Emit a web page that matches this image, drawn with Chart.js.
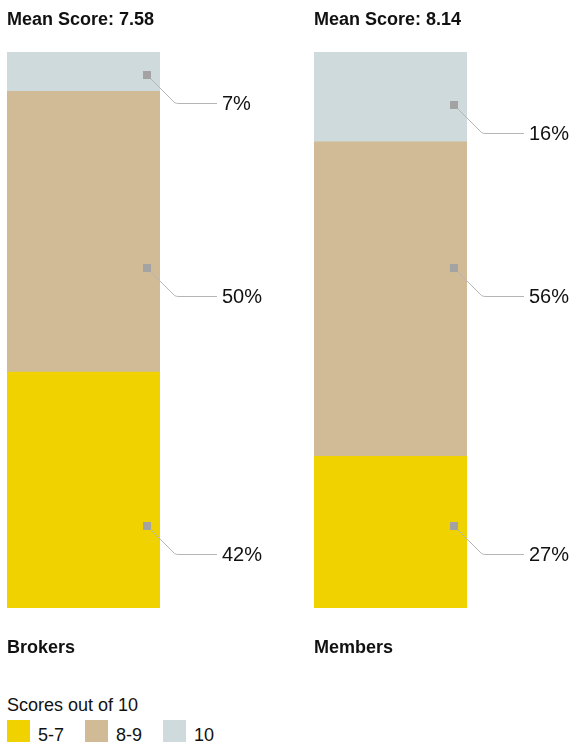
<!DOCTYPE html>
<html>
<head>
<meta charset="utf-8">
<title>Scores out of 10</title>
<script src="https://cdn.jsdelivr.net/npm/chart.js@4.4.1/dist/chart.umd.min.js"></script>
<style>
  html, body { margin: 0; padding: 0; background: #fff; }
  body {
    width: 571px; height: 742px; position: relative; overflow: hidden;
    font-family: "Liberation Sans", Arial, sans-serif; color: #111;
  }
  .panel { position: absolute; top: 0; }
  #brokers { left: 0; }
  #members { left: 307px; }
  #key { position: absolute; left: 7px; top: 694px; }
  #key .head { font-size: 18px; line-height: 22px; }
  #key .items { display: flex; margin-top: 4px; }
  #key .item { display: flex; align-items: flex-start; width: 78px; font-size: 18px; }
  #key .sw { width: 23px; height: 23px; margin-right: 8px; flex: none; }
  #key .txt { line-height: 23px; padding-top: 4px; }
</style>
</head>
<body>
<canvas id="brokers" class="panel" width="307" height="664"></canvas>
<canvas id="members" class="panel" width="264" height="664"></canvas>
<div id="key"></div>

<script>
// Share of respondents per score band, bottom to top: 5-7, 8-9, 10
const categories = ['Brokers', 'Members'];
const meanScores = [7.58, 8.14];
const bandLabels = ['5-7', '8-9', '10'];
const bandColors = ['#f0d200', '#d0bb96', '#cfdadc'];
const brokersShares = [42, 50, 7];
const membersShares = [27, 56, 16];
const keyTitle = 'Scores out of 10';

const FONT = '"Liberation Sans", Arial, sans-serif';

// Grey marker inside each segment with a leader line out to its percentage
const leaderLabels = {
  id: 'leaderLabels',
  afterDatasetsDraw(chart, args, opts) {
    const ctx = chart.ctx;
    const yScale = chart.scales.y;
    chart.data.datasets.forEach((ds, i) => {
      const bar = chart.getDatasetMeta(i).data[0];
      if (!bar) return;
      const right = bar.x + bar.width / 2;
      const mx = Math.round(right - 13);
      const my = Math.round(yScale.getPixelForValue(opts.anchors[i]));
      ctx.save();
      ctx.strokeStyle = '#b5b5b5';
      ctx.lineWidth = 1;
      ctx.beginPath();
      ctx.moveTo(mx + 0.5, my + 0.5);
      ctx.lineTo(mx + 27.5, my + 27.5);
      ctx.quadraticCurveTo(mx + 29, my + 28.5, mx + 32, my + 28.5);
      ctx.lineTo(mx + 70, my + 28.5);
      ctx.stroke();
      ctx.fillStyle = '#a3a3a3';
      ctx.fillRect(mx - 4, my - 4, 8, 8);
      ctx.fillStyle = '#111';
      ctx.font = '20px ' + FONT;
      ctx.textAlign = 'left';
      ctx.textBaseline = 'middle';
      ctx.fillText(ds.data[0] + '%', mx + 75, my + 29);
      ctx.restore();
    });
  }
};

function makePanel(canvasId, idx, shares, anchors, padRight) {
  const total = shares.reduce((a, b) => a + b, 0);
  return new Chart(document.getElementById(canvasId), {
    type: 'bar',
    data: {
      labels: [categories[idx]],
      datasets: bandLabels.map((lab, i) => ({
        label: lab,
        data: [shares[i]],
        backgroundColor: bandColors[i],
        borderWidth: 0,
        barPercentage: 1,
        categoryPercentage: 1
      }))
    },
    options: {
      responsive: false,
      animation: false,
      devicePixelRatio: 1,
      layout: { padding: { left: 7, right: padRight, top: 0, bottom: 0 } },
      scales: {
        x: { stacked: true, display: false },
        y: { stacked: true, display: false, min: 0, max: total }
      },
      plugins: {
        legend: { display: false },
        tooltip: { enabled: false },
        title: {
          display: true,
          text: 'Mean Score: ' + meanScores[idx].toFixed(2),
          align: 'start',
          color: '#111',
          font: { family: FONT, size: 18, weight: 'bold' },
          padding: { top: 9, bottom: 21.4 }
        },
        subtitle: {
          display: true,
          position: 'bottom',
          text: categories[idx],
          align: 'start',
          color: '#111',
          font: { family: FONT, size: 18, weight: 'bold' },
          padding: { top: 29, bottom: 5.4 }
        },
        leaderLabels: { anchors: anchors }
      }
    },
    plugins: [leaderLabels]
  });
}

makePanel('brokers', 0, brokersShares, [14.6, 60.5, 94.9], 147);
makePanel('members', 1, membersShares, [14.6, 60.5, 89.6], 104);

// Score band key
const key = document.getElementById('key');
const head = document.createElement('div');
head.className = 'head';
head.textContent = keyTitle;
key.appendChild(head);
const items = document.createElement('div');
items.className = 'items';
bandLabels.forEach((lab, i) => {
  const item = document.createElement('div');
  item.className = 'item';
  const sw = document.createElement('span');
  sw.className = 'sw';
  sw.style.background = bandColors[i];
  const txt = document.createElement('span');
  txt.className = 'txt';
  txt.textContent = lab;
  item.appendChild(sw);
  item.appendChild(txt);
  items.appendChild(item);
});
key.appendChild(items);
</script>
</body>
</html>
